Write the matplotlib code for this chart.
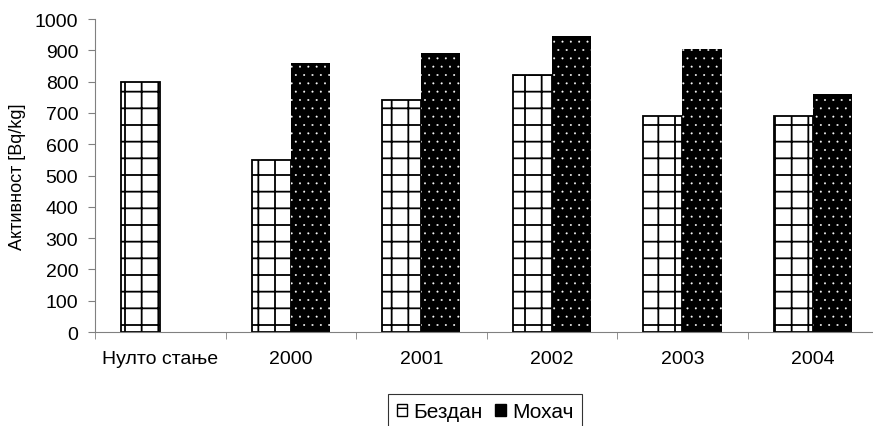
import numpy as np
import matplotlib
matplotlib.use('Agg')
from matplotlib import pyplot as plt
from matplotlib.patches import Patch

plt.rcParams['font.family'] = ['Liberation Sans', 'DejaVu Sans']

categories = ['Нулто стање', '2000', '2001', '2002', '2003', '2004']
bezdan = [800, 550, 740, 820, 690, 690]
mohac = [0, 860, 890, 945, 905, 760]

fig = plt.figure(figsize=(8.73, 4.27), dpi=100)
ax = fig.add_axes([0.1088, 0.220, 0.8912, 0.733])

x = np.arange(len(categories))
w = 0.3

with plt.rc_context({'hatch.linewidth': 1.3}):
    ax.bar(x - w / 2, bezdan, w, facecolor='white', edgecolor='black',
           hatch='+', linewidth=1.3)
    h1 = Patch(facecolor='white', edgecolor='black', hatch='+', linewidth=1.0)
with plt.rc_context({'hatch.linewidth': 0.2}):
    ax.bar(x + w / 2, mohac, w, facecolor='black', edgecolor='white',
           hatch='..', linewidth=0)
    h2 = Patch(facecolor='black', edgecolor='black', linewidth=1.0)

ax.set_xlim(-0.5, 5.46)
ax.set_ylim(0, 1000)
ax.set_yticks(range(0, 1001, 100))
ax.set_xticks(x)
ax.set_xticklabels(categories, fontsize=14)
ax.set_xticks(np.arange(-0.5, 5.5, 1), minor=True)
ax.tick_params(axis='x', which='major', length=0, pad=13)
ax.tick_params(axis='x', which='minor', length=5, color='#808080')
ax.tick_params(axis='y', length=5, color='#808080', labelsize=14, pad=7)

for side in ['top', 'right']:
    ax.spines[side].set_visible(False)
for side in ['left', 'bottom']:
    ax.spines[side].set_color('#808080')

ax.set_ylabel('Активност [Bq/kg]', fontsize=13, labelpad=6)

leg = fig.legend([h1, h2], ['Бездан', 'Мохач'], loc='upper center',
                 bbox_to_anchor=(485 / 873, 1 - 395 / 427), ncol=2,
                 fontsize=15, frameon=True, fancybox=False,
                 handlelength=0.5, handleheight=0.5, handletextpad=0.3,
                 columnspacing=0.6, borderpad=0.4, borderaxespad=0)
leg.get_frame().set_edgecolor('black')
leg.get_frame().set_linewidth(0.8)

fig.savefig('out.png', dpi=100)
